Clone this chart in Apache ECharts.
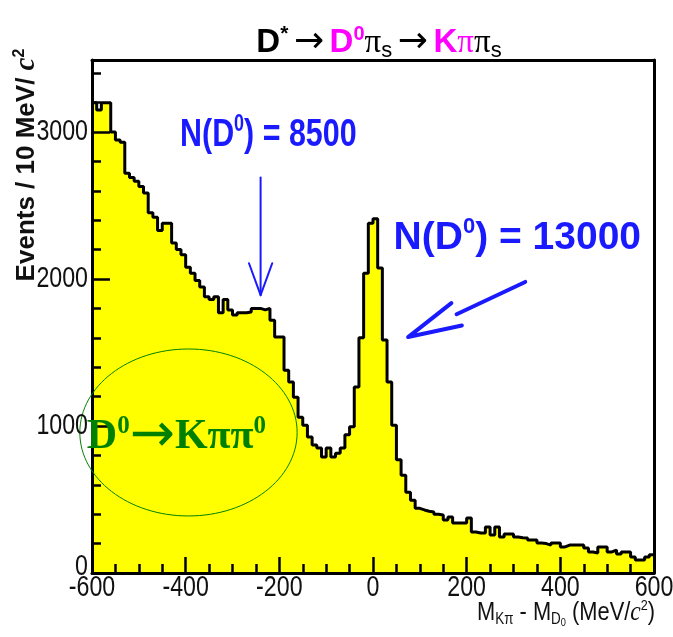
<!DOCTYPE html>
<html><head><meta charset="utf-8">
<script src="https://cdn.jsdelivr.net/npm/echarts@6/dist/echarts.min.js"></script>
<style>html,body{margin:0;padding:0;background:#fff}#c{width:673px;height:637px}</style>
</head><body><div id="c"></div>
<script>
// ---- data ----
const binLow = -600;
const binWidth = 10;
const counts = [
  3200,3150,3200,3200,3000,2945,2930,2720,2690,2665,
  2630,2585,2450,2420,2330,2380,2380,2245,2200,2165,
  2080,2040,1990,1945,1880,1860,1880,1770,1860,1790,
  1755,1770,1770,1775,1800,1800,1790,1800,1720,1605,
  1605,1380,1300,1195,1060,1005,925,870,850,790,
  850,790,815,850,940,995,1265,1600,2040,2380,
  2410,2075,1585,1300,1005,770,665,550,495,440,
  429,420,415,400,395,361,381,340,340,340,
  375,279,272,272,313,258,313,245,265,265,
  245,240,238,224,224,204,200,190,204,204,
  177,190,190,190,190,170,143,136,177,177,
  143,156,129,143,143,109,88,88,109,125
];
const xTickLabels = [-600,-400,-200,0,200,400,600];
const yTickLabels = [0,1000,2000,3000];
const yMax = 3490;

// annotation anchors in data units
const lbl8500 = [-412, 2980];
const arrow8500 = [[-240, 2690], [-240, 1890]];
const lbl13000 = [44, 2279];
const arrow13000 = [[325, 1980], [75, 1605]];
const ellipseCenter = [-394, 956];
const ellipseRadius = [232, 568];
const lblKpipi0 = [-611, 925];

const SANS = "'Liberation Sans',Arial,sans-serif";
const SERIF = "'Liberation Serif','Times New Roman',serif";
const NARROW_SCALE = 0.8;

const edges = counts.map((_, i) => binLow + i * binWidth);
const histData = counts.map((v, i) => [edges[i], v]);
histData.push([binLow + counts.length * binWidth, counts[counts.length - 1]]);

const chart = echarts.init(document.getElementById('c'), null, {renderer: 'canvas'});
const gridBox = {left: 92, right: 19, top: 60, bottom: 64};
const black = '#000';

const option = {
  animation: false,
  backgroundColor: '#fff',
  grid: [Object.assign({show: false}, gridBox), Object.assign({show: false}, gridBox)],
  xAxis: [
    {
      gridIndex: 0, type: 'value', min: xTickLabels[0], max: xTickLabels[xTickLabels.length - 1], interval: 200,
      position: 'bottom', z: 5,
      axisLine: {show: true, onZero: false, lineStyle: {color: black, width: 3}},
      axisTick: {show: true, inside: true, length: 16, lineStyle: {color: black, width: 2.5}},
      minorTick: {show: true, splitNumber: 4, length: 9, lineStyle: {color: black, width: 2.5}},
      splitLine: {show: false}, minorSplitLine: {show: false},
      axisLabel: {show: false}
    },
    {
      gridIndex: 0, type: 'value', min: -600, max: 600, position: 'top', z: 5,
      axisLine: {show: true, onZero: false, lineStyle: {color: black, width: 3}},
      axisTick: {show: false}, axisLabel: {show: false}, splitLine: {show: false}
    },
    {gridIndex: 1, type: 'value', min: -600, max: 600, show: false}
  ],
  yAxis: [
    {
      gridIndex: 0, type: 'value', min: 0, max: yMax, interval: 200, position: 'left', z: 5,
      axisLine: {show: true, onZero: false, lineStyle: {color: black, width: 3}},
      axisTick: {show: true, inside: true, length: 9, lineStyle: {color: black, width: 2.5}},
      splitLine: {show: false},
      axisLabel: {show: false}
    },
    {
      gridIndex: 0, type: 'value', min: 0, max: yMax, position: 'right', z: 5,
      axisLine: {show: true, onZero: false, lineStyle: {color: black, width: 3}},
      axisTick: {show: false}, axisLabel: {show: false}, splitLine: {show: false}
    },
    {
      gridIndex: 1, type: 'value', min: 0, max: yMax, interval: 1000, position: 'left', z: 6,
      axisLine: {show: false, onZero: false},
      axisTick: {show: true, inside: true, length: 18, lineStyle: {color: black, width: 2.5}},
      axisLabel: {show: false}, splitLine: {show: false}
    }
  ],
  series: [{
    type: 'line', xAxisIndex: 0, yAxisIndex: 0, step: 'end', data: histData,
    symbol: 'none', showSymbol: false, z: 2,
    lineStyle: {color: black, width: 3},
    areaStyle: {color: '#ffff00', opacity: 1}
  }]
};
chart.setOption(option);

const toPx = p => chart.convertToPixel({xAxisIndex: 0, yAxisIndex: 0}, p);

function arrowShapes(fromD, tipD, width, wingLen, wingDeg, shaftToMid, color) {
  const a = toPx(fromD), t = toPx(tipD);
  const dx = a[0] - t[0], dy = a[1] - t[1];
  const ang = Math.atan2(dy, dx);
  const w = wingDeg * Math.PI / 180;
  const w1 = [t[0] + wingLen * Math.cos(ang + w), t[1] + wingLen * Math.sin(ang + w)];
  const w2 = [t[0] + wingLen * Math.cos(ang - w), t[1] + wingLen * Math.sin(ang - w)];
  const end = shaftToMid ? [(w1[0] + w2[0]) / 2, (w1[1] + w2[1]) / 2] : t;
  const ls = {stroke: color, lineWidth: width, lineCap: 'round', lineJoin: 'round', fill: null};
  return [
    {type: 'polyline', shape: {points: [a, end]}, style: ls, z: 20},
    {type: 'polyline', shape: {points: [w1, t, w2]}, style: ls, z: 20}
  ];
}

const blue = '#1a1aff';
const green = '#008000';
const magenta = '#ff00ff';
const labelColor = '#111';

const p8500 = toPx(lbl8500);
const p13000 = toPx(lbl13000);
const pK = toPx(lblKpipi0);
const ec = toPx(ellipseCenter);
const er = [toPx([ellipseCenter[0] + ellipseRadius[0], 0])[0] - ec[0],
            toPx([0, 0])[1] - toPx([0, ellipseRadius[1]])[1]];

const tickLabelGraphics = [];
xTickLabels.forEach(v => {
  const p = toPx([v, 0]);
  tickLabelGraphics.push({
    type: 'text', x: p[0], y: p[1] + 15, scaleX: NARROW_SCALE, z: 30,
    style: {text: String(v), align: 'center', verticalAlign: 'middle',
            font: '29px ' + SANS, fill: labelColor}
  });
});
yTickLabels.forEach(v => {
  const p = toPx([-600, v]);
  tickLabelGraphics.push({
    type: 'text', x: p[0] - 4, y: p[1] + (v === 0 ? -6 : 0), scaleX: NARROW_SCALE, z: 30,
    style: {text: String(v), align: 'right', verticalAlign: 'middle',
            font: '29px ' + SANS, fill: labelColor}
  });
});

const graphics = [
  // title
  {
    type: 'text', x: 379, y: 43, z: 30,
    style: {
      text: '{b|D}{bs|*}{sp| }{ar|\u2192}{sp| }{m|D}{ms|0}{pi|\u03c0}{sub|s}{sp| }{ar|\u2192}{sp| }{m|K}{mpi|\u03c0}{pi|\u03c0}{sub|s}',
      align: 'center', verticalAlign: 'middle',
      rich: {
        b: {fontFamily: SANS, fontWeight: 'bold', fontSize: 33, fill: '#000', lineHeight: 38},
        bs: {fontFamily: SANS, fontWeight: 'bold', fontSize: 21, fill: '#000', lineHeight: 20, verticalAlign: 'top'},
        sp: {fontFamily: SANS, fontSize: 20, fill: '#000', lineHeight: 38},
        ar: {fontFamily: "'DejaVu Sans',sans-serif", fontSize: 36, fill: '#000', lineHeight: 38},
        m: {fontFamily: SANS, fontWeight: 'bold', fontSize: 33, fill: magenta, lineHeight: 38},
        ms: {fontFamily: SANS, fontWeight: 'bold', fontSize: 20, fill: magenta, lineHeight: 18, verticalAlign: 'top'},
        pi: {fontFamily: SERIF, fontSize: 33, fill: '#000', lineHeight: 38},
        mpi: {fontFamily: SERIF, fontSize: 33, fill: magenta, lineHeight: 38},
        sub: {fontFamily: SANS, fontSize: 22, fill: '#000', lineHeight: 18, verticalAlign: 'bottom'}
      }
    }
  },
  // y axis name
  {
    type: 'text', x: 27, y: 165, rotation: Math.PI / 2, z: 30,
    style: {
      text: '{a|Events / 10 MeV/ }{c|c}{s|2}',
      align: 'center', verticalAlign: 'middle',
      rich: {
        a: {fontFamily: SANS, fontWeight: 'bold', fontSize: 26, fill: labelColor, lineHeight: 30},
        c: {fontFamily: SERIF, fontStyle: 'italic', fontWeight: 'bold', fontSize: 29, fill: labelColor, lineHeight: 30},
        s: {fontFamily: SANS, fontWeight: 'bold', fontSize: 16, fill: labelColor, lineHeight: 14, verticalAlign: 'top'}
      }
    }
  },
  // x axis name
  {
    type: 'text', x: 655, y: 613, scaleX: 0.84, z: 30,
    style: {
      text: '{a|M}{sb|K\u03c0}{a| - M}{sb|D}{sbs|0}{a| (MeV/}{c|c}{s|2}{a|)}',
      align: 'right', verticalAlign: 'middle',
      rich: {
        a: {fontFamily: SANS, fontSize: 26, fill: labelColor, lineHeight: 30},
        sb: {fontFamily: SANS, fontSize: 16, fill: labelColor, lineHeight: 12, verticalAlign: 'bottom'},
        sbs: {fontFamily: SANS, fontSize: 11, fill: labelColor, lineHeight: 26, verticalAlign: 'bottom'},
        c: {fontFamily: SERIF, fontStyle: 'italic', fontSize: 28, fill: labelColor, lineHeight: 30},
        s: {fontFamily: SANS, fontSize: 15, fill: labelColor, lineHeight: 14, verticalAlign: 'top'}
      }
    }
  },
  // N(D0) = 8500
  {
    type: 'text', x: p8500[0], y: p8500[1], scaleX: 0.78, z: 30,
    style: {
      text: '{a|N(D}{s|0}{a|) = 8500}', align: 'left', verticalAlign: 'middle',
      rich: {
        a: {fontFamily: SANS, fontWeight: 'bold', fontSize: 39, fill: blue, lineHeight: 44},
        s: {fontFamily: SANS, fontWeight: 'bold', fontSize: 23, fill: blue, lineHeight: 26, verticalAlign: 'top'}
      }
    }
  },
  // N(D0) = 13000
  {
    type: 'text', x: p13000[0], y: p13000[1], z: 30,
    style: {
      text: '{a|N(D}{s|0}{a|) = 13000}', align: 'left', verticalAlign: 'middle',
      rich: {
        a: {fontFamily: SANS, fontWeight: 'bold', fontSize: 39, fill: blue, lineHeight: 44},
        s: {fontFamily: SANS, fontWeight: 'bold', fontSize: 22, fill: blue, lineHeight: 24, verticalAlign: 'top'}
      }
    }
  },
  // ellipse
  {
    type: 'ellipse', z: 25,
    shape: {cx: ec[0], cy: ec[1], rx: er[0], ry: er[1]},
    style: {fill: null, stroke: green, lineWidth: 1}
  },
  // D0 -> K pi pi0
  {
    type: 'text', x: pK[0], y: pK[1], z: 30,
    style: {
      text: '{a|D}{s|0}{ar|\u2192}{a|K\u03c0\u03c0}{s|0}', align: 'left', verticalAlign: 'middle',
      rich: {
        a: {fontFamily: SERIF, fontWeight: 'bold', fontSize: 42, fill: green, lineHeight: 46},
        ar: {fontFamily: "'DejaVu Sans',sans-serif", fontSize: 54, fill: green, lineHeight: 46},
        s: {fontFamily: SERIF, fontWeight: 'bold', fontSize: 25, fill: green, lineHeight: 24, verticalAlign: 'top'}
      }
    }
  }
].concat(
  tickLabelGraphics,
  arrowShapes(arrow8500[0], arrow8500[1], 2, 34, 20, false, blue),
  arrowShapes(arrow13000[0], arrow13000[1], 4, 55, 13, true, blue)
);

chart.setOption({graphic: graphics});
</script>
</body></html>
